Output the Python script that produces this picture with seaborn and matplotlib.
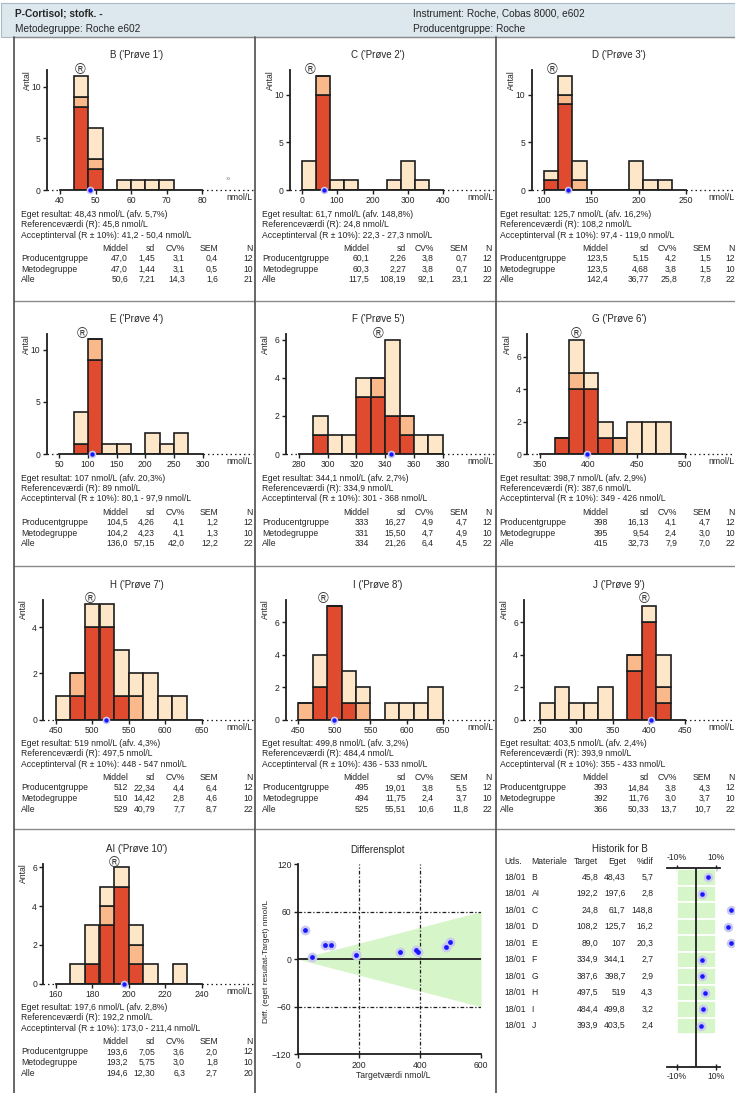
import numpy as np
import pandas as pd
import matplotlib
matplotlib.use("Agg")
import matplotlib.pyplot as plt
from matplotlib.lines import Line2D
from matplotlib.patches import Rectangle
import seaborn as sns

# ---------------- data ----------------
samples = ["B", "C", "D", "E", "F", "G", "H", "I", "J", "AI"]
sample_no = [1, 2, 3, 4, 5, 6, 7, 8, 9, 10]
reference = [45.8, 24.8, 108.2, 89.0, 334.9, 387.6, 497.5, 484.4, 393.9, 192.2]
own_result = [48.43, 61.7, 125.7, 107, 344.1, 398.7, 519, 499.8, 403.5, 197.6]
deviation_pct = [5.7, 148.8, 16.2, 20.3, 2.7, 2.9, 4.3, 3.2, 2.4, 2.8]
accept_pct = 10

# histogram bins (left edge of first bin, bin width) and counts per group
bin_start = [44, 0, 100, 75, 290, 365, 450, 450, 250, 168]
bin_width = [4, 40, 15, 25, 10, 15, 20, 20, 20, 8]
count_method = [
    [8, 2, 0, 0, 0, 0, 0],
    [0, 10, 0, 0, 0, 0, 0, 0, 0],
    [1, 9, 0, 0, 0, 0, 0, 0, 0],
    [1, 9, 0, 0, 0, 0, 0, 0],
    [1, 0, 0, 3, 3, 2, 1, 0, 0],
    [1, 4, 4, 1, 0, 0, 0, 0],
    [0, 1, 4, 4, 1, 0, 0, 0, 0],
    [0, 2, 7, 1, 0, 0, 0, 0, 0, 0],
    [0, 0, 0, 0, 0, 0, 3, 6, 1],
    [0, 1, 3, 5, 1, 0, 0, 0],
]
count_producer = [
    [1, 1, 0, 0, 0, 0, 0],
    [0, 2, 0, 0, 0, 0, 0, 0, 0],
    [0, 1, 1, 0, 0, 0, 0, 0, 0],
    [0, 2, 0, 0, 0, 0, 0, 0],
    [0, 0, 0, 0, 1, 0, 1, 0, 0],
    [0, 1, 0, 0, 1, 0, 0, 0],
    [0, 1, 0, 0, 0, 1, 0, 0, 0],
    [1, 0, 0, 0, 1, 0, 0, 0, 0, 0],
    [0, 0, 0, 0, 0, 0, 1, 0, 1],
    [0, 0, 1, 0, 1, 0, 0, 0],
]
count_rest = [
    [2, 3, 0, 1, 1, 1, 1],
    [3, 0, 1, 1, 0, 0, 1, 3, 1],
    [1, 2, 2, 0, 0, 0, 3, 1, 1],
    [3, 0, 1, 1, 0, 2, 1, 2],
    [1, 1, 1, 1, 0, 4, 0, 1, 1],
    [0, 2, 1, 1, 0, 2, 2, 2],
    [1, 0, 1, 1, 2, 1, 2, 1, 1],
    [0, 2, 0, 2, 1, 0, 1, 1, 1, 2],
    [1, 2, 1, 1, 2, 0, 0, 1, 2],
    [1, 2, 1, 1, 1, 1, 0, 1],
]

x_ticks = [
    [40, 50, 60, 70, 80], [0, 100, 200, 300, 400], [100, 150, 200, 250],
    [50, 100, 150, 200, 250, 300], [280, 300, 320, 340, 360, 380], [350, 400, 450, 500],
    [450, 500, 550, 600, 650], [450, 500, 550, 600, 650], [250, 300, 350, 400, 450],
    [160, 180, 200, 220, 240],
]
y_ticks = [[0, 5, 10]] * 4 + [[0, 2, 4, 6], [0, 2, 4, 6], [0, 2, 4],
                              [0, 2, 4, 6], [0, 2, 4, 6], [0, 2, 4, 6]]
y_top = [11.6, 12.6, 12.6, 11.5, 6.3, 7.4, 5.2, 7.4, 7.4, 6.2]

# (Middel, sd, CV%, SEM, N)
stats_producer = [
    (47.0, 1.45, 3.1, 0.4, 12), (60.1, 2.26, 3.8, 0.7, 12), (123.5, 5.15, 4.2, 1.5, 12),
    (104.5, 4.26, 4.1, 1.2, 12), (333, 16.27, 4.9, 4.7, 12), (398, 16.13, 4.1, 4.7, 12),
    (512, 22.34, 4.4, 6.4, 12), (495, 19.01, 3.8, 5.5, 12), (393, 14.84, 3.8, 4.3, 12),
    (193.6, 7.05, 3.6, 2.0, 12),
]
stats_method = [
    (47.0, 1.44, 3.1, 0.5, 10), (60.3, 2.27, 3.8, 0.7, 10), (123.5, 4.68, 3.8, 1.5, 10),
    (104.2, 4.23, 4.1, 1.3, 10), (331, 15.50, 4.7, 4.9, 10), (395, 9.54, 2.4, 3.0, 10),
    (510, 14.42, 2.8, 4.6, 10), (494, 11.75, 2.4, 3.7, 10), (392, 11.76, 3.0, 3.7, 10),
    (193.2, 5.75, 3.0, 1.8, 10),
]
stats_all = [
    (50.6, 7.21, 14.3, 1.6, 21), (117.5, 108.19, 92.1, 23.1, 22), (142.4, 36.77, 25.8, 7.8, 22),
    (136.0, 57.15, 42.0, 12.2, 22), (334, 21.26, 6.4, 4.5, 22), (415, 32.73, 7.9, 7.0, 22),
    (529, 40.79, 7.7, 8.7, 22), (525, 55.51, 10.6, 11.8, 22), (366, 50.33, 13.7, 10.7, 22),
    (194.6, 12.30, 6.3, 2.7, 20),
]

history_order = ["B", "AI", "C", "D", "E", "F", "G", "H", "I", "J"]
history_date = ["18/01"] * 10

diff_x_ticks = [0, 200, 400, 600]
diff_y_ticks = [-120, -60, 0, 60, 120]

# ---------------- style ----------------
W, H = 735, 1093
sns.set_style("ticks")
plt.rcParams["font.family"] = ["Liberation Sans", "DejaVu Sans"]
INK = "#1e1e1e"
TXT = "#262626"
FS = 6.2          # body text
FS_TITLE = 7.0
RED, ORANGE, CREAM = "#e04a2f", "#f9b98a", "#fee6c9"
GREEN = "#d6f5c8"
BLUE, HALO = "#1818ff", "#c9c9f2"
group_order = ["Alle", "Producentgruppe", "Metodegruppe"]
group_colors = {"Alle": CREAM, "Producentgruppe": ORANGE, "Metodegruppe": RED}

fig = plt.figure(figsize=(W / 100, H / 100), dpi=100)
fig.patch.set_facecolor("white")


def fx(x):
    return x / W


def fy(y):
    return 1 - y / H


def px_axes(left, top, right, bottom):
    return fig.add_axes([fx(left), fy(bottom), (right - left) / W, (bottom - top) / H])


def ftext(x, y, s, **kw):
    kw.setdefault("color", TXT)
    kw.setdefault("fontsize", FS)
    kw.setdefault("va", "center")
    fig.text(fx(x), fy(y), s, **kw)


def fline(xs, ys, **kw):
    fig.add_artist(Line2D([fx(x) for x in xs], [fy(y) for y in ys],
                          transform=fig.transFigure, **kw))


def dk(v, d):
    return f"{v:.{d}f}".replace(".", ",")


def dk_g(v):
    return f"{v:g}".replace(".", ",")


# ---------------- page frame ----------------
fig.add_artist(Rectangle((fx(1), fy(36.5)), 734 / W, 33 / H, transform=fig.transFigure,
                         facecolor="#dce8ee", edgecolor="#a9bac4", lw=0.8))
ftext(15, 14, "P-Cortisol; stofk. -", fontsize=7.3, fontweight="bold")
ftext(15, 28.5, "Metodegruppe: Roche e602", fontsize=7.3)
ftext(413, 14, "Instrument: Roche, Cobas 8000, e602", fontsize=7.3)
ftext(413, 28.5, "Producentgruppe: Roche", fontsize=7.3)

row_top = [37, 301, 566, 829]
row_base = [190, 454, 719.5, 983.5]
col_left = [14, 255, 496]
col_right = [255, 496, 737]
for y in row_top:
    fline([14, 735], [y, y], color="#8a8a8a", lw=1.0)
for x in col_left:
    fline([x, x], [36.5, 1093], color="#5a5a5a", lw=1.3)

# ---------------- histogram panels ----------------
yaxis_px = [47, 290, 531.7, 46.7, 285.7, 527.3, 43.3, 285.7, 524.3, 43.3]
first_tick_px = [60, 301.7, 544, 59.3, 299, 540, 55.7, 298.3, 540, 55.7]
last_tick_px = [202, 443.3, 686, 202.7, 442.7, 685, 201.7, 442.7, 685, 201.7]
stat_cols = [[114, 141, 171, 204, 239], [114, 151, 179, 213, 237], [112, 153, 181, 215, 239]]
text_indent = [7, 7, 3.5]


def draw_hist(i, row, col):
    left = yaxis_px[i]
    right = col_right[col] - 2
    base = row_base[row]
    ax = px_axes(left, base - 120, right, base)
    ax.patch.set_alpha(0)
    xt = x_ticks[i]
    scale = (last_tick_px[i] - first_tick_px[i]) / (xt[-1] - xt[0])
    lo = xt[0] - (first_tick_px[i] - left) / scale
    hi = xt[0] + (right - first_tick_px[i]) / scale

    nb = len(count_method[i])
    edges = [bin_start[i] + bin_width[i] * k for k in range(nb + 1)]
    centers = [e + bin_width[i] / 2 for e in edges[:-1]]
    df = pd.DataFrame({
        "value": np.tile(centers, 3),
        "n": np.concatenate([count_rest[i], count_producer[i], count_method[i]]),
        "group": np.repeat(group_order, nb),
    })
    sns.histplot(data=df, x="value", weights="n", hue="group", hue_order=group_order,
                 multiple="stack", bins=edges, palette=group_colors, alpha=1,
                 edgecolor=INK, linewidth=1.2, legend=False, ax=ax)

    ax.set_xlim(lo, hi)
    ax.set_ylim(0, y_top[i])
    ax.set_xlabel("")
    ax.set_ylabel("")
    ax.set_xticks(xt)
    ax.set_yticks(y_ticks[i])
    for s in ("top", "right"):
        ax.spines[s].set_visible(False)
    ax.spines["left"].set_linewidth(1.3)
    ax.spines["left"].set_color(INK)
    ax.spines["bottom"].set_linewidth(1.3)
    ax.spines["bottom"].set_color(INK)
    ax.spines["bottom"].set_bounds(xt[0], xt[-1])
    ax.tick_params(direction="out", length=3, width=1, colors=INK, labelcolor=TXT,
                   labelsize=FS, pad=1.5)
    dots = dict(color=INK, lw=0.9, ls=(0, (1.2, 2.4)), clip_on=False, zorder=1)
    ax.plot([lo, xt[0]], [0, 0], **dots)
    ax.plot([xt[-1], hi], [0, 0], **dots)

    # own result on the axis and reference marker on top
    ax.scatter([own_result[i]], [0], s=30, color=HALO, zorder=6, clip_on=False, lw=0)
    ax.scatter([own_result[i]], [0], s=10, color=BLUE, zorder=7, clip_on=False, lw=0)
    ax.text(reference[i], y_top[i], "\u00ae", ha="center", va="center", fontsize=10.5,
            color="#3a3a3a", zorder=8, clip_on=False)

    cl = col_left[col]
    ftext(cl + 123, base - 135, f"{samples[i]} ('Prøve {sample_no[i]}')", ha="center",
          fontsize=FS_TITLE)
    ftext(left - 20, base - 120, "Antal", rotation=90, ha="center", va="top")
    ftext(cl + 212, base + 8, "nmol/L", ha="left")

    tx = cl + text_indent[col]
    ftext(tx, base + 24.5,
          f"Eget resultat: {dk_g(own_result[i])} nmol/L (afv. {dk(deviation_pct[i], 1)}%)")
    ftext(tx, base + 34.5, f"Referenceværdi (R): {dk_g(reference[i])} nmol/L")
    d = 1 if reference[i] < 300 else 0
    lo_lim = reference[i] * (1 - accept_pct / 100)
    hi_lim = reference[i] * (1 + accept_pct / 100)
    ftext(tx, base + 45,
          f"Acceptinterval (R ± {accept_pct}%): {dk(lo_lim, d)} - {dk(hi_lim, d)} nmol/L")

    cols = stat_cols[col]
    for label, cx in zip(["Middel", "sd", "CV%", "SEM", "N"], cols):
        ftext(cl + cx, base + 58.5, label, ha="right")
    rows = [("Producentgruppe", stats_producer[i]), ("Metodegruppe", stats_method[i]),
            ("Alle", stats_all[i])]
    for k, (name, st) in enumerate(rows):
        yy = base + 68.5 + 10.5 * k
        ftext(tx, yy, name)
        mean, sd, cv, sem, n = st
        vals = [dk(mean, 1 if mean < 300 else 0), dk(sd, 2), dk(cv, 1), dk(sem, 1), str(n)]
        for v, cx in zip(vals, cols):
            ftext(cl + cx, yy, v, ha="right")
    return ax


grid = [(0, 0), (0, 1), (0, 2), (1, 0), (1, 1), (1, 2), (2, 0), (2, 1), (2, 2), (3, 0)]
for i, (r, c) in enumerate(grid):
    draw_hist(i, r, c)

ftext(228, 180, "\u00bb", fontsize=5.5, color="#808080", ha="center")

# ---------------- difference plot ----------------
ax = px_axes(297.7, 864, 481, 1054.3)
ax.patch.set_alpha(0)
ax.set_xlim(diff_x_ticks[0], diff_x_ticks[-1])
ax.set_ylim(diff_y_ticks[0], diff_y_ticks[-1])
xmax = diff_x_ticks[-1]
ax.fill_between([0, xmax], [0, -xmax * accept_pct / 100], [0, xmax * accept_pct / 100],
                color=GREEN, lw=0, zorder=1)
dashdot = dict(color=INK, lw=0.9, ls=(0, (3, 1.6, 1, 1.6)), zorder=2)
for y in (60, -60):
    ax.axhline(y, **dashdot)
for x in (200, 400):
    ax.axvline(x, **dashdot)
ax.axhline(0, color=INK, lw=1.3, zorder=3)
diff_df = pd.DataFrame({"target": reference,
                        "diff": np.array(own_result) - np.array(reference)})
sns.scatterplot(data=diff_df, x="target", y="diff", s=50, color=HALO, lw=0, zorder=4, ax=ax,
                clip_on=False)
sns.scatterplot(data=diff_df, x="target", y="diff", s=12, color=BLUE, lw=0, zorder=5, ax=ax,
                clip_on=False)
ax.set_xlabel("")
ax.set_ylabel("")
ax.set_xticks(diff_x_ticks)
ax.set_yticks(diff_y_ticks)
for s in ("top", "right"):
    ax.spines[s].set_visible(False)
for s in ("left", "bottom"):
    ax.spines[s].set_linewidth(1.3)
    ax.spines[s].set_color(INK)
ax.tick_params(direction="out", length=3, width=1, colors=INK, labelcolor=TXT,
               labelsize=FS, pad=1.5)
ftext(377.5, 850, "Differensplot", ha="center", fontsize=FS_TITLE)
ftext(393, 1075, "Targetværdi nmol/L", ha="center")
ftext(266.7, 961, "Diff. (eget resultat-Target) nmol/L", rotation=90, ha="center", fontsize=6.0)

# ---------------- history ----------------
ftext(620, 849, "Historik for B", ha="center", fontsize=FS_TITLE)
hx = [504.3, 531.7, 598.3, 625.7, 653.3]
ftext(hx[0], 861.7, "Uds.")
ftext(hx[1], 861.7, "Materiale")
ftext(hx[2], 861.7, "Target", ha="right")
ftext(hx[3], 861.7, "Eget", ha="right")
ftext(hx[4], 861.7, "%dif", ha="right")
hist_idx = [samples.index(s) for s in history_order]
for k, j in enumerate(hist_idx):
    yy = 877.3 + 16.5 * k
    ftext(hx[0], yy, history_date[k])
    ftext(hx[1], yy, samples[j])
    ftext(hx[2], yy, dk(reference[j], 1), ha="right")
    ftext(hx[3], yy, dk_g(own_result[j]), ha="right")
    ftext(hx[4], yy, dk(deviation_pct[j], 1), ha="right")

hl, hr = 660, 735
scale = (716 - 676.7) / 20
ax = px_axes(hl, 868, hr, 1066.7)
ax.patch.set_alpha(0)
ax.set_xlim(-10 - (676.7 - hl) / scale, -10 + (hr - 676.7) / scale)
ax.set_ylim(11.48, -0.564)
rows = np.arange(len(hist_idx))
ax.barh(rows, 2 * accept_pct, left=-accept_pct, height=1, color=GREEN, edgecolor="white",
        lw=1.2, zorder=1)
ax.axvline(0, color=INK, lw=1.3, zorder=2)
pct = np.clip([deviation_pct[j] for j in hist_idx], -17.5, 17.5)
hist_df = pd.DataFrame({"pct": pct, "row": rows})
sns.scatterplot(data=hist_df, x="pct", y="row", s=46, color=HALO, lw=0, zorder=3, ax=ax,
                clip_on=False)
sns.scatterplot(data=hist_df, x="pct", y="row", s=11, color=BLUE, lw=0, zorder=4, ax=ax,
                clip_on=False)
ax.set_xlabel("")
ax.set_ylabel("")
for s in ("left", "right"):
    ax.spines[s].set_visible(False)
for s in ("top", "bottom"):
    ax.spines[s].set_bounds(-15, 12)
    ax.spines[s].set_linewidth(1.3)
    ax.spines[s].set_color(INK)
ax.set_yticks([])
ax.set_xticks([-accept_pct, accept_pct])
ax.set_xticklabels([f"-{accept_pct}%", f"{accept_pct}%"])
ax.tick_params(axis="x", top=True, labeltop=True, bottom=True, labelbottom=True,
               direction="inout", length=5, width=1, colors=INK, labelcolor=TXT,
               labelsize=FS, pad=1.5)

fig.savefig("out.png", dpi=100, facecolor="white")
